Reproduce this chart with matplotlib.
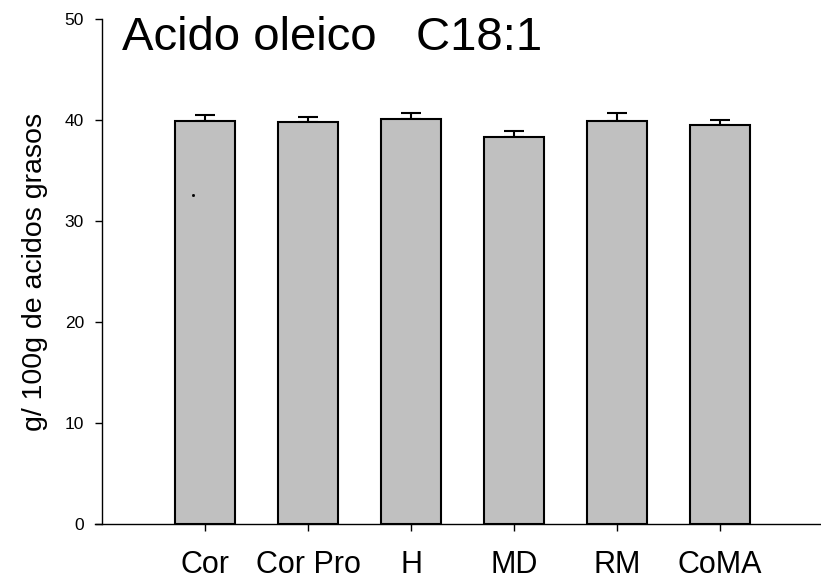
import matplotlib
matplotlib.use("Agg")
from matplotlib import pyplot as plt
import numpy as np

plt.rcParams['font.family'] = ['Liberation Sans', 'DejaVu Sans']

# data
groups = ['Cor', 'Cor Pro', 'H', 'MD', 'RM', 'CoMA']
means = [39.9, 39.8, 40.1, 38.3, 39.9, 39.5]
errs = [0.6, 0.5, 0.6, 0.6, 0.8, 0.5]
stray_x = [-0.12]
stray_y = [32.6]

fig = plt.figure(figsize=(8.21, 5.80), dpi=100)
ax = fig.add_axes([102/821, 1-524/580, 1-102/821, (524-19)/580])

x = np.arange(len(groups))
ax.bar(x, means, width=0.59, color='#c0c0c0', edgecolor='black', linewidth=1.5, zorder=2)
ax.errorbar(x, means, yerr=[np.zeros(len(errs)), errs], fmt='none', ecolor='black',
            elinewidth=1.5, capsize=7, capthick=1.5, zorder=1)
ax.plot(stray_x, stray_y, 's', color='black', markersize=1)

ax.set_xlim(-1, 5.98)
ax.set_ylim(0, 50)
ax.spines['top'].set_visible(False)
ax.spines['right'].set_visible(False)
ax.spines['left'].set_linewidth(1.0)
ax.spines['bottom'].set_linewidth(1.0)
ax.spines['bottom'].set_bounds(-1.068, 6.2)

ax.set_xticks(x)
ax.set_xticklabels(groups, fontsize=22)
ax.set_yticks([0, 10, 20, 30, 40, 50])
ax.tick_params(axis='y', direction='out', length=5, width=1.0, pad=8, labelsize=12.5)
ax.tick_params(axis='x', direction='out', length=5, width=1.0, pad=13.5)
ax.set_ylabel('g/ 100g de acidos grasos', fontsize=20.5, labelpad=12)

fig.text(122/821, 1-16/580, 'Acido oleico   C18:1', fontsize=34, va='top', ha='left')

fig.savefig('out.png', dpi=100)
